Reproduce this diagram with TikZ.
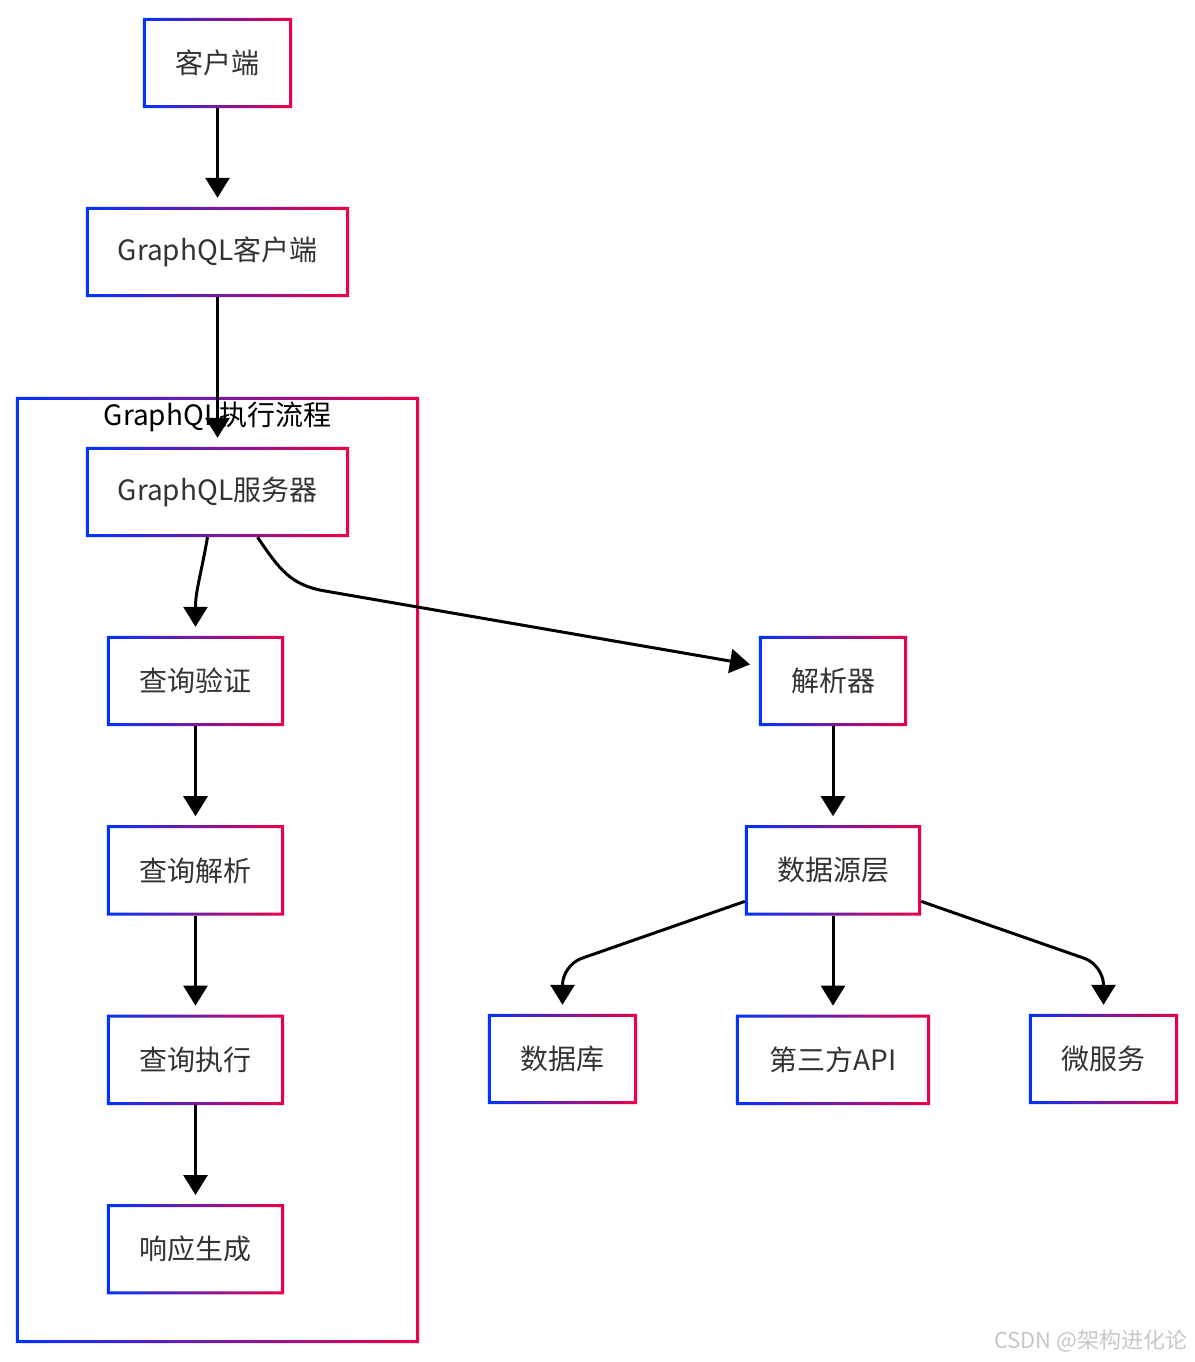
\documentclass[tikz,border=0pt]{standalone}
\usepackage{fontspec}
\setmainfont{Noto Sans CJK SC}
\usetikzlibrary{arrows.meta,positioning}
\definecolor{gblue}{RGB}{0,51,255}
\definecolor{gred}{RGB}{238,0,68}
\definecolor{ink}{RGB}{51,51,51}
% gradient border round a named node
\newcommand{\gradframe}[1]{%
  \shade[left color=gblue, right color=gred, even odd rule]
    (#1.south west) rectangle (#1.north east)
    ([shift={(3pt,3pt)}]#1.south west) rectangle ([shift={(-3pt,-3pt)}]#1.north east);}

\begin{document}
\begin{tikzpicture}[
    x=1pt, y=-1pt,
    box/.style={rectangle, fill=white, text=ink, minimum height=90pt, inner sep=0pt, font=\fontsize{28}{34}\selectfont},
    cluster/.style={rectangle, minimum width=403pt, minimum height=946pt, inner sep=0pt},
    arrow/.style={line width=3pt, -{Triangle[width=24pt,length=20pt]}, shorten >=9pt}
]
\useasboundingbox (0,0) rectangle (1194,1362);

% Nodes
\node (flow) [cluster] at (217.5,870) {};
\node (flowtitle) [font=\fontsize{28}{34}\selectfont, text=black, inner sep=0pt] at (217.5,417) {GraphQL执行流程};
\node (client) [box, minimum width=149pt] at (217.5,63) {客户端};
\node (gqlclient) [box, minimum width=263pt] at (217.5,252) {GraphQL客户端};
\node (server) [box, minimum width=263pt] at (217.5,492) {GraphQL服务器};
\node (check) [box, minimum width=177pt] at (195.5,681) {查询验证};
\node (parse) [box, minimum width=177pt, below=99pt of check] {查询解析};
\node (exec) [box, minimum width=177pt, below=99pt of parse] {查询执行};
\node (reply) [box, minimum width=177pt, below=99pt of exec] {响应生成};
\node (resolver) [box, minimum width=148pt] at (833,681) {解析器};
\node (source) [box, minimum width=176pt, below=99pt of resolver] {数据源层};
\node (db) [box, minimum width=149pt] at (562.5,1059) {数据库};
\node (api) [box, minimum width=194pt, below=99pt of source] {第三方API};
\node (micro) [box, minimum width=149pt] at (1103.5,1059) {微服务};
\node (mark) [anchor=east, text=black!22, font=\fontsize{22}{26}\selectfont] at (1191,1341) {CSDN @架构进化论};

% Frames
\foreach \n in {flow,client,gqlclient,server,check,parse,exec,reply,resolver,source,db,api,micro}
  \gradframe{\n};

% Arrows
\draw [arrow] (client) -- (gqlclient);
\draw [arrow] (gqlclient) -- (server);
\draw [arrow] ([xshift=-10pt]server.south) .. controls +(-7,40) and +(0,-45) .. (check.north);
\draw [arrow] ([xshift=40pt]server.south) .. controls +(22,32) and +(-35,-6) .. (325,591) -- ([yshift=15pt]resolver.west);
\draw [arrow] (check) -- (parse);
\draw [arrow] (parse) -- (exec);
\draw [arrow] (exec) -- (reply);
\draw [arrow] (resolver) -- (source);
\draw [arrow, rounded corners=20pt] ([yshift=-31pt]source.west) -- (562.5,965) -- (db.north);
\draw [arrow] (source) -- (api);
\draw [arrow, rounded corners=20pt] ([yshift=-31pt]source.east) -- (1103.5,965) -- (micro.north);

\end{tikzpicture}
\end{document}
